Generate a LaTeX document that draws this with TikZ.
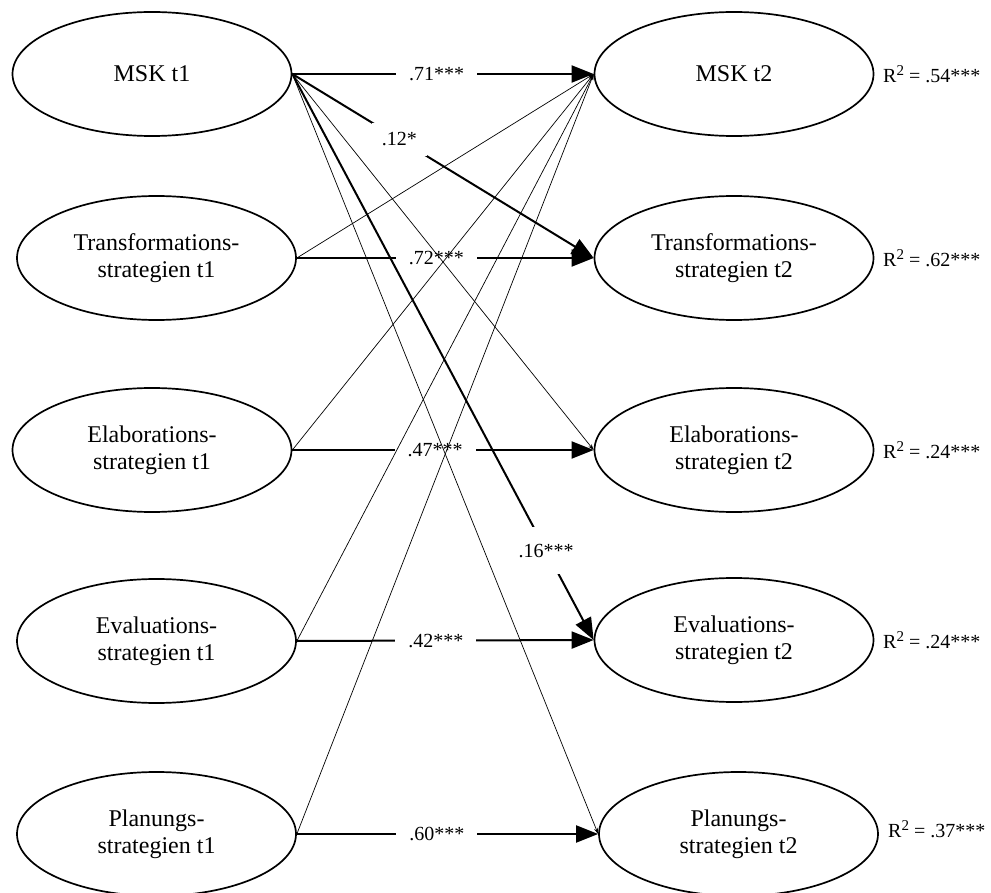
\documentclass[tikz,border=0pt]{standalone}
\usepackage{fontspec}
\setmainfont{Liberation Serif}
\usetikzlibrary{shapes.geometric,arrows.meta}
\newcommand{\rsqsup}{R\raisebox{7pt}{\fontsize{15}{15}\selectfont 2}}
\begin{document}
\begin{tikzpicture}[x=1pt,y=-1pt,
  var/.style={ellipse,draw,line width=1.7pt,minimum width=279pt,minimum height=124pt,inner sep=0pt,align=center,font=\fontsize{24}{27}\selectfont},
  strong/.style={line width=2pt,-{Triangle[length=22pt,width=17pt]}},
  weak/.style={line width=0.7pt,-{Stealth[length=6pt,width=4pt]}},
  coef/.style={fill=white,inner xsep=13pt,inner ysep=12pt,font=\fontsize{20}{22}\selectfont},
  rsq/.style={anchor=west,inner sep=0pt,font=\fontsize{20}{22}\selectfont}]
\useasboundingbox (0,0) rectangle (991,893);
% time 1
\node[var] (m1)  at (152,74)    {MSK t1};
\node[var] (tr1) at (156.5,258) {Transformations-\\strategien t1};
\node[var] (el1) at (152,450)   {Elaborations-\\strategien t1};
\node[var] (ev1) at (156.5,641) {Evaluations-\\strategien t1};
\node[var] (pl1) at (156.5,834) {Planungs-\\strategien t1};
% time 2
\node[var] (m2)  at (734,74)    {MSK t2};
\node[var] (tr2) at (734,258)   {Transformations-\\strategien t2};
\node[var] (el2) at (734,450)   {Elaborations-\\strategien t2};
\node[var] (ev2) at (734,640)   {Evaluations-\\strategien t2};
\node[var] (pl2) at (738.5,834) {Planungs-\\strategien t2};
% R squared
\node[rsq] (r1) at (883,74)  {\rsqsup{} = .54***};
\node[rsq] (r2) at (883,258) {\rsqsup{} = .62***};
\node[rsq] (r3) at (883,450) {\rsqsup{} = .24***};
\node[rsq] (r4) at (883,640) {\rsqsup{} = .24***};
\node[rsq] (r5) at (888,829) {\rsqsup{} = .37***};
% strong paths
\draw[strong] (m1.east)  -- node[coef,pos=0.479] {.71***} (m2.west);
\draw[strong] (tr1.east) -- node[coef,pos=0.470] {.72***} (tr2.west);
\draw[strong] (el1.east) -- node[coef,pos=0.474] {.47***} (el2.west);
\draw[strong] (ev1.east) -- node[coef,pos=0.468] {.42***} (ev2.west);
\draw[strong] (pl1.east) -- node[coef,pos=0.465] {.60***} (pl2.west);
\draw[strong] (m1.east) -- node[coef,pos=0.355,inner xsep=10pt,inner ysep=10pt] {.12*} (tr2.west);
\draw[strong] (m1.east) -- node[coef,pos=0.842,inner xsep=6pt,inner ysep=17pt] {.16***} (ev2.west);
% weak paths
\draw[weak] (tr1.east) -- (m2.west);
\draw[weak] (el1.east) -- (m2.west);
\draw[weak] (ev1.east) -- (m2.west);
\draw[weak] (pl1.east) -- (m2.west);
\draw[weak] (m1.east) -- (el2.west);
\draw[weak] (m1.east) -- (pl2.west);
\end{tikzpicture}
\end{document}
